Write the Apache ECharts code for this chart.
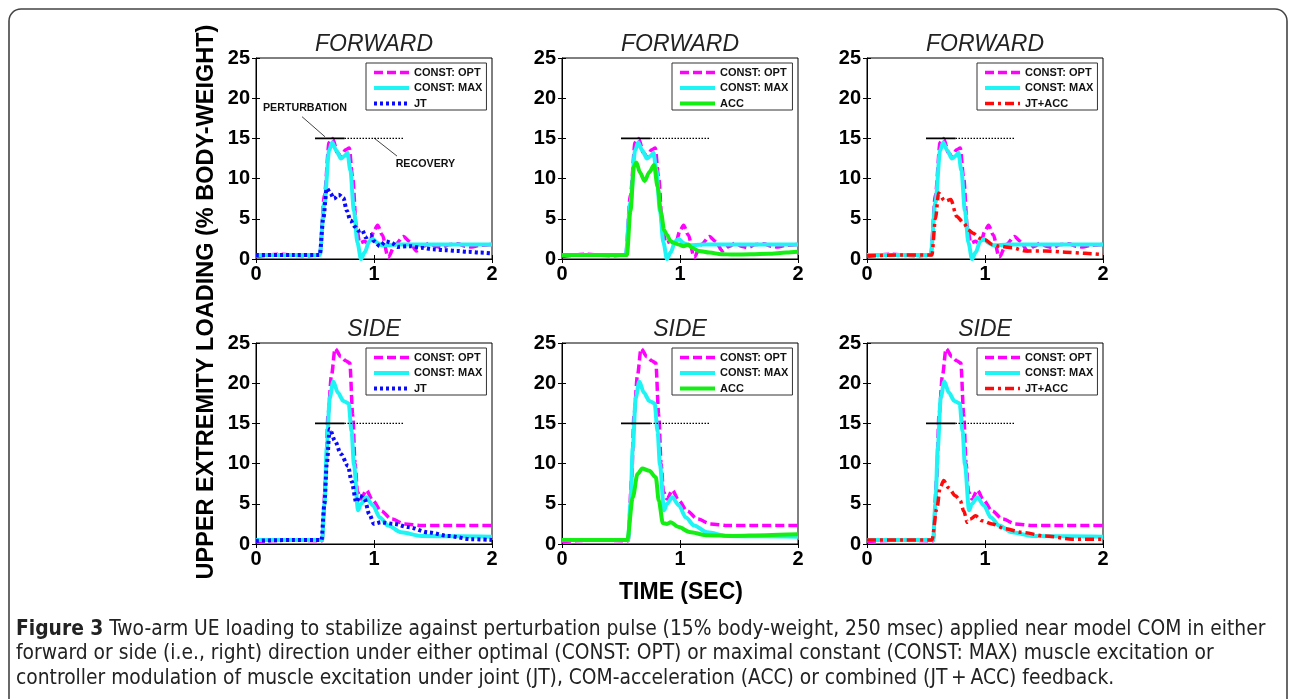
<!DOCTYPE html>
<html>
<head>
<meta charset="utf-8">
<script src="https://cdn.jsdelivr.net/npm/echarts@6/dist/echarts.min.js"></script>
<style>
  html, body { margin: 0; padding: 0; background: #fff; }
  #main { width: 1290px; height: 699px; }
</style>
</head>
<body>
<div id="main"></div>
<script>
// ---- data (time in sec, loading in % body-weight) ----
// FORWARD perturbation
var fwdOptT = [0, 0.2, 0.4, 0.54, 0.58, 0.62, 0.65, 0.69, 0.72, 0.76, 0.79, 0.82, 0.85, 0.88, 0.92, 0.96, 1.0, 1.03, 1.07, 1.12, 1.18, 1.25, 1.3, 1.36, 1.42, 1.47, 1.52, 1.57, 1.64, 1.71, 1.77, 1.83, 1.9, 2.0];
var fwdOptV = [0.3, 0.6, 0.4, 0.5, 8, 14.5, 15, 13.2, 12.8, 13.6, 13.8, 10, 4, 2.0, 2.2, 1.8, 3.5, 4.2, 3, 0.2, 1.8, 2.8, 2.2, 1.0, 1.6, 2.0, 1.6, 1.4, 1.8, 1.9, 1.6, 1.5, 1.7, 1.8];
var fwdMaxT = [0, 0.54, 0.58, 0.62, 0.645, 0.68, 0.72, 0.75, 0.775, 0.8, 0.83, 0.86, 0.89, 0.92, 0.96, 0.99, 1.03, 1.07, 1.2, 1.5, 2.0];
var fwdMaxV = [0.5, 0.5, 7, 13.5, 14.5, 13.5, 12.5, 12.8, 13.2, 11, 6, 2, 0, 0.8, 2.2, 2.5, 2, 1.7, 1.8, 1.8, 1.8];
var fwdJtT = [0, 0.3, 0.54, 0.57, 0.6, 0.63, 0.66, 0.7, 0.74, 0.77, 0.8, 0.84, 0.87, 0.9, 0.93, 0.97, 1.0, 1.05, 1.1, 1.15, 1.2, 1.3, 1.4, 1.5, 1.6, 1.7, 1.8, 1.9, 2.0];
var fwdJtV = [0.5, 0.5, 0.5, 5, 8.8, 8.2, 7.5, 8, 7.6, 6, 4.8, 4, 3.5, 3.6, 2.7, 3, 2.2, 1.6, 2.2, 2, 1.5, 1.6, 1.4, 1.2, 1.1, 1, 0.9, 0.8, 0.7];
var fwdAccT = [0, 0.3, 0.55, 0.58, 0.61, 0.63, 0.66, 0.7, 0.74, 0.78, 0.81, 0.84, 0.865, 0.89, 0.92, 0.95, 0.99, 1.03, 1.07, 1.1, 1.16, 1.25, 1.35, 1.45, 1.6, 1.75, 1.9, 2.0];
var fwdAccV = [0.5, 0.5, 0.5, 6, 11.5, 12, 10.8, 9.7, 10.8, 11.7, 9, 5.7, 3.6, 3, 2.2, 2, 1.8, 1.6, 1.8, 1.4, 1, 0.8, 0.6, 0.55, 0.6, 0.65, 0.8, 0.9];
var fwdJaT = [0, 0.3, 0.55, 0.58, 0.607, 0.66, 0.71, 0.76, 0.82, 0.86, 0.9, 0.95, 1.0, 1.06, 1.12, 1.23, 1.34, 1.51, 1.68, 1.85, 2.0];
var fwdJaV = [0.4, 0.5, 0.5, 5, 8.2, 7.2, 7.4, 5.3, 4.5, 3.6, 3.2, 2.6, 2.4, 1.8, 1.6, 1.4, 1.0, 1.0, 0.85, 0.7, 0.55];

// SIDE perturbation
var sideOptT = [0, 0.3, 0.56, 0.59, 0.61, 0.64, 0.67, 0.72, 0.76, 0.795, 0.82, 0.84, 0.86, 0.89, 0.935, 0.99, 1.06, 1.15, 1.26, 1.4, 1.6, 2.0];
var sideOptV = [0.3, 0.5, 0.4, 8, 16, 21, 24.3, 23.3, 22.8, 22.5, 16, 10, 6.5, 5.6, 6.7, 5.4, 4.1, 3.1, 2.5, 2.3, 2.3, 2.3];
var sideMaxT = [0, 0.3, 0.56, 0.58, 0.6, 0.625, 0.655, 0.695, 0.74, 0.785, 0.81, 0.83, 0.865, 0.89, 0.935, 0.99, 1.05, 1.12, 1.23, 1.4, 1.7, 2.0];
var sideMaxV = [0.5, 0.5, 0.5, 5, 12, 18.2, 20.2, 18.8, 17.8, 17.5, 14, 9.9, 4.2, 5, 5.8, 4.8, 3.3, 2.3, 1.45, 1.0, 0.95, 0.9];
var sideJtT = [0, 0.3, 0.555, 0.58, 0.6, 0.625, 0.67, 0.72, 0.78, 0.81, 0.85, 0.88, 0.92, 0.96, 1.0, 1.06, 1.17, 1.29, 1.46, 1.63, 1.82, 2.0];
var sideJtV = [0.4, 0.5, 0.5, 5, 10, 14.3, 12.8, 11.2, 9.7, 7.8, 5.2, 6, 5.6, 3.7, 2.5, 2.7, 2.5, 2.1, 1.45, 1.0, 0.6, 0.5];
var sideAccT = [0, 0.3, 0.553, 0.6, 0.64, 0.68, 0.74, 0.795, 0.82, 0.855, 0.89, 0.92, 0.99, 1.08, 1.22, 1.45, 1.73, 2.0];
var sideAccV = [0.5, 0.5, 0.5, 5.8, 8.7, 9.4, 9.1, 8.3, 5.4, 2.6, 2.5, 2.7, 2.1, 1.5, 1.1, 1.0, 1.1, 1.2];
var sideJaT = [0, 0.3, 0.55, 0.593, 0.62, 0.65, 0.69, 0.75, 0.79, 0.82, 0.85, 0.875, 0.92, 0.975, 1.06, 1.17, 1.31, 1.51, 1.74, 2.0];
var sideJaV = [0.5, 0.5, 0.5, 4.5, 7, 7.9, 7, 6, 5.4, 4.1, 2.7, 3.1, 3.5, 2.9, 2.5, 1.9, 1.45, 1.0, 0.6, 0.6];

// perturbation pulse (solid) and recovery window (dotted), at 15 %
var pulseT = [0.5, 0.75];
var recovT = [0.75, 1.25];
var pulseLevel = 15;
// leader lines for the annotations in the first panel
var pertLeadT = [0.39, 0.585], pertLeadV = [17.7, 15.2];
var recLeadT = [1.0, 1.195], recLeadV = [15.05, 12.8];

var xTicks = [0, 1, 2];
var yTicks = [0, 5, 10, 15, 20, 25];

var panelTitles = ['FORWARD', 'FORWARD', 'FORWARD', 'SIDE', 'SIDE', 'SIDE'];
var panelCtrl = ['JT', 'ACC', 'JT+ACC', 'JT', 'ACC', 'JT+ACC'];

function pairs(t, v) {
  var out = [];
  for (var i = 0; i < t.length; i++) out.push([t[i], v[i]]);
  return out;
}

var curves = [
  { 'CONST: OPT': pairs(fwdOptT, fwdOptV), 'CONST: MAX': pairs(fwdMaxT, fwdMaxV), 'JT': pairs(fwdJtT, fwdJtV) },
  { 'CONST: OPT': pairs(fwdOptT, fwdOptV), 'CONST: MAX': pairs(fwdMaxT, fwdMaxV), 'ACC': pairs(fwdAccT, fwdAccV) },
  { 'CONST: OPT': pairs(fwdOptT, fwdOptV), 'CONST: MAX': pairs(fwdMaxT, fwdMaxV), 'JT+ACC': pairs(fwdJaT, fwdJaV) },
  { 'CONST: OPT': pairs(sideOptT, sideOptV), 'CONST: MAX': pairs(sideMaxT, sideMaxV), 'JT': pairs(sideJtT, sideJtV) },
  { 'CONST: OPT': pairs(sideOptT, sideOptV), 'CONST: MAX': pairs(sideMaxT, sideMaxV), 'ACC': pairs(sideAccT, sideAccV) },
  { 'CONST: OPT': pairs(sideOptT, sideOptV), 'CONST: MAX': pairs(sideMaxT, sideMaxV), 'JT+ACC': pairs(sideJaT, sideJaV) }
];

var styles = {
  'CONST: OPT': { color: '#ff00ff', width: 3.5, type: [9, 4] },
  'CONST: MAX': { color: '#1ff4f4', width: 4, type: 'solid' },
  'JT': { color: '#0a0aff', width: 4, type: [3, 3] },
  'ACC': { color: '#14ee14', width: 4, type: 'solid' },
  'JT+ACC': { color: '#ff0a0a', width: 3.5, type: [9, 4, 3, 4] }
};

var FONT = '"Liberation Sans", Arial, sans-serif';
var gridPos = [[256, 58], [562, 58], [867, 58], [256, 343], [562, 343], [867, 343]];
var GW = 236, GH = 201;

var chart = echarts.init(document.getElementById('main'));

var grids = [], xAxes = [], yAxes = [], series = [], legends = [], graphics = [];

gridPos.forEach(function (p, i) {
  grids.push({ left: p[0], top: p[1], width: GW, height: GH, show: true,
    borderColor: '#000', borderWidth: 1, backgroundColor: '#fff' });

  var tick = { show: true, inside: true, length: 4, lineStyle: { color: '#000' } };
  xAxes.push({ gridIndex: i, type: 'value', min: 0, max: 2, interval: 1,
    axisLine: { show: true, onZero: false, lineStyle: { color: '#000' } }, axisTick: tick,
    splitLine: { show: false },
    axisLabel: { fontSize: 20, fontWeight: 'bold', color: '#000', fontFamily: FONT, margin: 5,
      formatter: function (v) { return xTicks.indexOf(v) >= 0 ? String(v) : ''; } } });
  xAxes.push({ gridIndex: i, type: 'value', min: 0, max: 2, interval: 1, position: 'top',
    axisLine: { show: false }, axisTick: tick, axisLabel: { show: false }, splitLine: { show: false } });
  yAxes.push({ gridIndex: i, type: 'value', min: 0, max: 25, interval: 5,
    axisLine: { show: true, onZero: false, lineStyle: { color: '#000' } }, axisTick: tick,
    splitLine: { show: false },
    axisLabel: { fontSize: 20, fontWeight: 'bold', color: '#000', fontFamily: FONT, margin: 6,
      formatter: function (v) { return yTicks.indexOf(v) >= 0 ? String(v) : ''; } } });
  yAxes.push({ gridIndex: i, type: 'value', min: 0, max: 25, interval: 5, position: 'right',
    axisLine: { show: false }, axisTick: tick, axisLabel: { show: false }, splitLine: { show: false } });

  var names = ['CONST: OPT', 'CONST: MAX', panelCtrl[i]];
  names.forEach(function (n) {
    var s = styles[n];
    series.push({ type: 'line', name: n, xAxisIndex: 2 * i, yAxisIndex: 2 * i,
      data: curves[i][n], showSymbol: false, symbol: 'none', smooth: 0.3, smoothMonotone: 'x',
      color: s.color, lineStyle: { color: s.color, width: s.width, type: s.type },
      silent: true, animation: false });
  });

  series.push({ type: 'line', name: 'pulse', xAxisIndex: 2 * i, yAxisIndex: 2 * i,
    data: pairs(pulseT, [pulseLevel, pulseLevel]), symbol: 'none', silent: true, animation: false,
    lineStyle: { color: '#000', width: 1.6 }, z: 5 });
  series.push({ type: 'line', name: 'recovery', xAxisIndex: 2 * i, yAxisIndex: 2 * i,
    data: pairs(recovT, [pulseLevel, pulseLevel]), symbol: 'none', silent: true, animation: false,
    lineStyle: { color: '#000', width: 1.2, type: [1.5, 1.5] }, z: 5 });

  legends.push({ data: names, left: p[0] + 110, top: p[1] + 5, orient: 'vertical',
    icon: 'inherit', itemStyle: { opacity: 0 },
    lineStyle: { width: 'inherit', type: 'inherit' },
    itemWidth: 35, itemHeight: 12, itemGap: 4.5, padding: [4, 4, 1, 6],
    borderColor: '#333', borderWidth: 1, backgroundColor: '#fff', selectedMode: false,
    textStyle: { fontSize: 11, fontWeight: 'bold', color: '#111', fontFamily: FONT } });

  graphics.push({ type: 'text', x: p[0] + GW / 2, y: p[1] - 13,
    style: { text: panelTitles[i], font: 'italic 23px ' + FONT, fill: '#222',
      textAlign: 'center', textVerticalAlign: 'middle' } });
});

// leader lines of the annotations (first panel)
series.push({ type: 'line', name: 'lead1', xAxisIndex: 0, yAxisIndex: 0, data: pairs(pertLeadT, pertLeadV),
  symbol: 'none', silent: true, animation: false, lineStyle: { color: '#444', width: 1 } });
series.push({ type: 'line', name: 'lead2', xAxisIndex: 0, yAxisIndex: 0, data: pairs(recLeadT, recLeadV),
  symbol: 'none', silent: true, animation: false, lineStyle: { color: '#444', width: 1 } });

// outer frame
graphics.unshift({ type: 'rect', shape: { x: 9, y: 9, width: 1278, height: 730, r: 12 },
  style: { fill: 'none', stroke: '#444', lineWidth: 1.6 }, z: -10 });

// axis titles
graphics.push({ type: 'text', x: 207, y: 302, rotation: Math.PI / 2,
  style: { text: 'UPPER EXTREMITY LOADING (% BODY-WEIGHT)', font: 'bold 23.5px ' + FONT, fill: '#000',
    textAlign: 'center', textVerticalAlign: 'middle' } });
graphics.push({ type: 'text', x: 681, y: 593,
  style: { text: 'TIME (SEC)', font: 'bold 23px ' + FONT, fill: '#000',
    textAlign: 'center', textVerticalAlign: 'middle' } });

// caption
var capFont = '"DejaVu Sans Condensed", ' + FONT;
graphics.push({ type: 'text', left: 16, top: 617,
  style: {
    text: '{b|Figure 3} Two-arm UE loading to stabilize against perturbation pulse (15% body-weight, 250 msec) applied near model COM in either\n' +
      'forward or side (i.e., right) direction under either optimal (CONST: OPT) or maximal constant (CONST: MAX) muscle excitation or\n' +
      'controller modulation of muscle excitation under joint (JT), COM-acceleration (ACC) or combined (JT\u2009+\u2009ACC) feedback.',
    fontSize: 20.8, fontFamily: capFont, fill: '#222', lineHeight: 24.5,
    rich: { b: { fontSize: 20.8, fontFamily: capFont, fontWeight: 'bold', fill: '#222', lineHeight: 24.5 } }
  } });

chart.setOption({
  backgroundColor: '#fff',
  animation: false,
  grid: grids,
  xAxis: xAxes,
  yAxis: yAxes,
  legend: legends,
  series: series,
  graphic: graphics
});

// annotation texts placed through the first panel's scales
var pPos = chart.convertToPixel({ xAxisIndex: 0, yAxisIndex: 0 }, [0.415, 18.8]);
var rPos = chart.convertToPixel({ xAxisIndex: 0, yAxisIndex: 0 }, [1.436, 11.8]);
graphics.push({ type: 'text', x: pPos[0], y: pPos[1],
  style: { text: 'PERTURBATION', font: 'bold 10.7px ' + FONT, fill: '#111', textAlign: 'center', textVerticalAlign: 'middle' }, z: 20 });
graphics.push({ type: 'text', x: rPos[0], y: rPos[1],
  style: { text: 'RECOVERY', font: 'bold 10.7px ' + FONT, fill: '#111', textAlign: 'center', textVerticalAlign: 'middle' }, z: 20 });
chart.setOption({ graphic: graphics });
</script>
</body>
</html>
